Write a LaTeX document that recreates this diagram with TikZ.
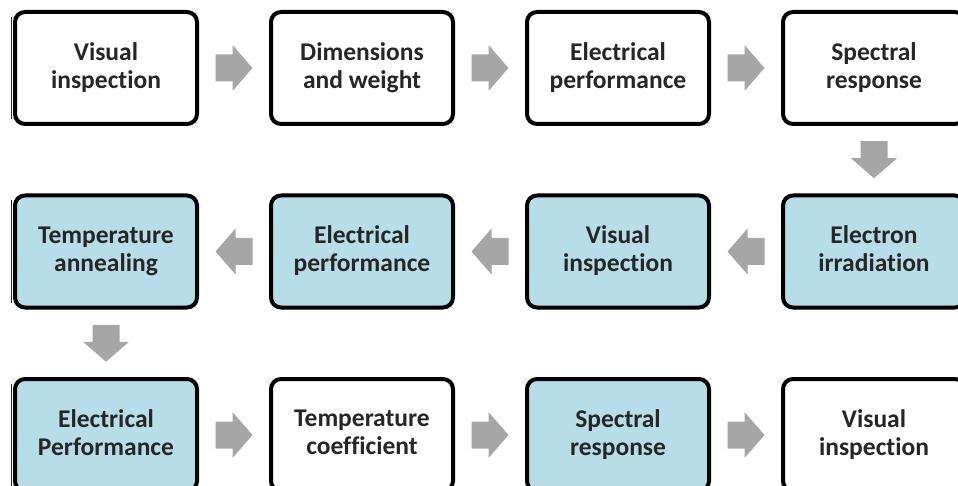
\documentclass[tikz,border=0pt]{standalone}
\usepackage{fontspec}
\setmainfont[Ligatures=NoCommon]{Carlito}
\usetikzlibrary{calc}
\definecolor{boxblue}{HTML}{B7DEE8}
\definecolor{arrowgray}{HTML}{A6A6A6}
\definecolor{txt}{HTML}{262626}
\newcommand{\boxstrut}{\rule[-5pt]{0pt}{26pt}}
\begin{document}
\begin{tikzpicture}[x=1pt,y=1pt,
  stepbox/.style={draw=black, line width=4pt, rounded corners=10pt,
    minimum width=182pt, minimum height=112pt, align=center,
    font=\bfseries\fontsize{25.5}{28}\selectfont, text=txt, inner sep=0pt,
    execute at begin node=\boxstrut, execute at end node=\boxstrut},
  whitebox/.style={stepbox, fill=white},
  bluebox/.style={stepbox, fill=boxblue},
  blockarrow/.pic={\fill[arrowgray] (-18.5,-13.5) -- (-1.5,-13.5) -- (-1.5,-23)
      -- (18.5,0) -- (-1.5,23) -- (-1.5,13.5) -- (-18.5,13.5) -- cycle;},
  edgeline/.style={line width=0.8pt, draw=black!85}]
\useasboundingbox (0,0) rectangle (958,-486);
\clip (0,0) rectangle (958,-486);

% row 1
\node[whitebox] (r1c1) at (106,-68) {Visual\\inspection};
\node[whitebox] (r1c2) at (362,-68) {Dimensions\\and weight};
\node[whitebox] (r1c3) at (618,-68) {Electrical\\performance};
\node[whitebox] (r1c4) at (874,-68) {Spectral\\response};
% row 2
\node[bluebox] (r2c1) at (106,-251.5) {Temperature\\annealing};
\node[bluebox] (r2c2) at (362,-251.5) {Electrical\\performance};
\node[bluebox] (r2c3) at (618,-251.5) {Visual\\inspection};
\node[bluebox] (r2c4) at (874,-251.5) {Electron\\irradiation};
% row 3
\node[bluebox] (r3c1) at (106,-435) {Electrical\\Performance};
\node[whitebox] (r3c2) at (362,-435) {Temperature\\coefficient};
\node[bluebox] (r3c3) at (618,-435) {Spectral\\response};
\node[whitebox] (r3c4) at (874,-435) {Visual\\inspection};

% thin left edge lines
\foreach \n in {r1c1,r2c1,r3c1}
  \draw[edgeline] ([xshift=-2pt,yshift=-7pt]\n.north west) -- ([xshift=-2pt,yshift=7pt]\n.south west);

% arrows row 1
\path ($(r1c1.east)!0.5!(r1c2.west)$) pic {blockarrow};
\path ($(r1c2.east)!0.5!(r1c3.west)$) pic {blockarrow};
\path ($(r1c3.east)!0.5!(r1c4.west)$) pic {blockarrow};
% down
\path ($(r1c4.south)!0.5!(r2c4.north)$) pic[rotate=-90] {blockarrow};
% arrows row 2
\path ($(r2c4.west)!0.5!(r2c3.east)$) pic[rotate=180] {blockarrow};
\path ($(r2c3.west)!0.5!(r2c2.east)$) pic[rotate=180] {blockarrow};
\path ($(r2c2.west)!0.5!(r2c1.east)$) pic[rotate=180] {blockarrow};
% down
\path ($(r2c1.south)!0.5!(r3c1.north)$) pic[rotate=-90] {blockarrow};
% arrows row 3
\path ($(r3c1.east)!0.5!(r3c2.west)$) pic {blockarrow};
\path ($(r3c2.east)!0.5!(r3c3.west)$) pic {blockarrow};
\path ($(r3c3.east)!0.5!(r3c4.west)$) pic {blockarrow};
\end{tikzpicture}
\end{document}
